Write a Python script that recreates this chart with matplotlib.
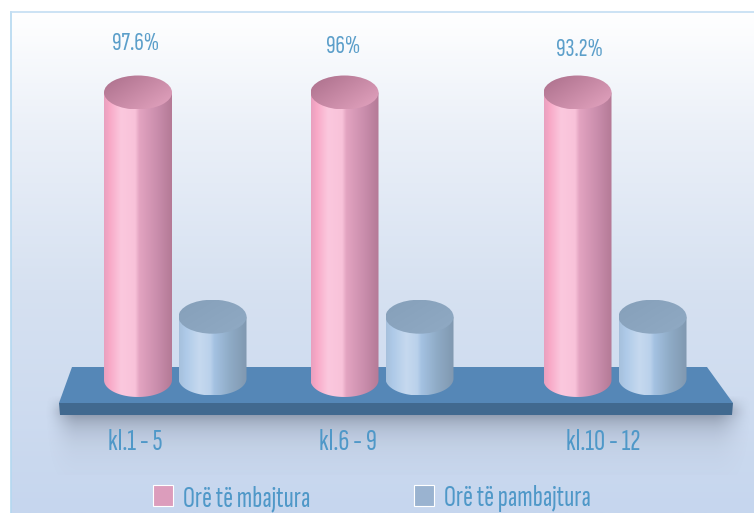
import numpy as np
import matplotlib
matplotlib.use("Agg")
import matplotlib.pyplot as plt
from matplotlib.colors import LinearSegmentedColormap, to_rgb
from matplotlib.patches import Ellipse, PathPatch, Polygon, Rectangle
from matplotlib.path import Path

# ---- data ----
categories = ["kl.1 - 5", "kl.6 - 9", "kl.10 - 12"]
value_labels = ["97.6%", "96%", "93.2%"]
series_names = ["Orë të mbajtura", "Orë të pambajtura"]
held_heights = [100, 100, 100]      # drawn height
missed_heights = [21.5, 21.5, 21.5]

# ---- layout ----
W, H = 754, 513
PX_PER_UNIT = 2.875
BASE_PX = 380
held_x = [138, 344.5, 577.5]
missed_x = [212.5, 419.5, 652.5]
label_x = [136, 343, 579]
label_y = [44, 47, 50]
cat_x = [135, 348, 603]
RX = 34
RY_PX = 17

plt.rcParams["font.family"] = ["Sofia Sans Extra Condensed", "Fira Sans Extra Condensed", "DejaVu Sans"]
TEXT = "#5c9fca"

fig = plt.figure(figsize=(W / 100, H / 100), dpi=100, facecolor="white")
ax = fig.add_axes([0, 0, 1, 1])
ax.axis("off")
v_of = lambda px: (BASE_PX - px) / PX_PER_UNIT
YLIM = (v_of(H), v_of(0))
ax.set_xlim(0, W)
ax.set_ylim(*YLIM)


def cmap(stops, name):
    return LinearSegmentedColormap.from_list(name, [(p, to_rgb(c)) for p, c in stops])


# background panel
bg_y = np.linspace(12, H, 256)
stops_y = [12, 130, 290, 513]
bg = np.stack([np.interp(bg_y, stops_y, c) for c in
               ([255, 235, 214, 198], [255, 240, 225, 214], [255, 248, 241, 238])], axis=1)[:, None, :] / 255
ax.imshow(bg, extent=(11, W, v_of(H), v_of(12)), origin="upper", aspect="auto", zorder=0)
ax.plot([11, 11], [v_of(H), v_of(12)], color="#b4d8f0", lw=1.2, zorder=1)
ax.plot([11, W], [v_of(12), v_of(12)], color="#c4def2", lw=1.2, zorder=1)

# soft shadow under the platform
sx = np.arange(40, W)
sy = np.arange(395, 475)
gx = np.clip((sx - 44) / 34, 0, 1) * np.clip((752 - sx) / 40, 0, 1)
gx = gx * gx * (3 - 2 * gx)
gy = np.exp(-np.clip(sy - 414, 0, None) / 16.0) * np.clip((sy - 396) / 14, 0, 1)
alpha = np.outer(gy, gx) * 0.5
shadow = np.zeros(alpha.shape + (4,))
shadow[..., :3] = (0.30, 0.33, 0.40)
shadow[..., 3] = alpha
ax.imshow(shadow, extent=(40, W, v_of(475), v_of(395)), origin="upper", aspect="auto", zorder=2)

# platform
ax.add_patch(Polygon([(72, v_of(367)), (707, v_of(367)), (733, v_of(403)), (59, v_of(403))],
                     closed=True, fc="#5587b7", ec="none", zorder=3))
ax.add_patch(Polygon([(59, v_of(403)), (733, v_of(403)), (732, v_of(415)), (60, v_of(415))],
                     closed=True, fc="#41698f", ec="none", zorder=3))

held_body = cmap([(0, "#e8a0bf"), (.08, "#f8a8c6"), (.25, "#fbc8de"), (.46, "#f8c2d9"),
                  (.52, "#e3a4c1"), (.8, "#c88cab"), (1, "#b47a96")], "hb")
held_top = cmap([(0, "#aa6e8a"), (1, "#e4a4c0")], "ht")
missed_body = cmap([(0, "#a6c0dc"), (.1, "#aecae8"), (.3, "#c6d9ef"), (.46, "#bad1eb"),
                    (.52, "#a4c2e2"), (.75, "#8fabc6"), (1, "#8098b0")], "mb")
missed_top = cmap([(0, "#86a0ba"), (1, "#90aac4")], "mt")


def cylinder(cx, height, base_off, body_map, top_map, z):
    base = v_of(BASE_PX + base_off)
    top = base + height
    ry = RY_PX / PX_PER_UNIT
    t = np.linspace(np.pi, 2 * np.pi, 60)
    verts = [(cx - RX, top)] + list(zip(cx + RX * np.cos(t), base + ry * np.sin(t))) + [(cx + RX, top)]
    clip = PathPatch(Path(verts + [verts[0]], closed=True), fc="none", ec="none",
                     transform=ax.transData, zorder=z)
    ax.add_patch(clip)
    im = ax.imshow(np.linspace(0, 1, 256)[None, :], cmap=body_map, aspect="auto", vmin=0, vmax=1,
                   extent=(cx - RX, cx + RX, base - ry, top), zorder=z)
    im.set_clip_path(clip)
    ell = Ellipse((cx, top), 2 * RX, 2 * ry, fc="none", ec="none", transform=ax.transData, zorder=z + 1)
    ax.add_patch(ell)
    xx, yy = np.meshgrid(np.linspace(0, 1, 80), np.linspace(0, 1, 80))
    im2 = ax.imshow((0.55 * xx + 0.45 * yy), cmap=top_map, aspect="auto", vmin=0, vmax=1, origin="upper",
                    extent=(cx - RX, cx + RX, top - ry, top + ry), zorder=z + 1)
    im2.set_clip_path(ell)


for i in range(len(categories)):
    cylinder(missed_x[i], missed_heights[i], -1.5, missed_body, missed_top, 5)
    cylinder(held_x[i], held_heights[i], 0, held_body, held_top, 7)
    ax.text(label_x[i], v_of(label_y[i]), value_labels[i], color=TEXT, fontsize=19,
            ha="center", va="center", zorder=10)
    ax.text(cat_x[i], v_of(442), categories[i], color="#4f98c8", fontsize=22,
            ha="center", va="center", zorder=10)

handles = [Rectangle((0, 0), 1, 1, fc="#dc9dbc", ec="white", lw=0.8),
           Rectangle((0, 0), 1, 1, fc="#9ab3d0", ec="white", lw=0.8)]
leg = ax.legend(handles, series_names, ncol=2, frameon=False, fontsize=21.5,
                loc="lower left", bbox_to_anchor=(153 / W, 1 / H), borderaxespad=0, borderpad=0.0,
                handlelength=0.67, handleheight=0.67, handletextpad=0.33, columnspacing=3.48,
                labelcolor="#4f98c8")
leg.set_zorder(10)

ax.set_xlim(0, W)
ax.set_ylim(*YLIM)
fig.savefig("out.png", dpi=100, facecolor="white")
